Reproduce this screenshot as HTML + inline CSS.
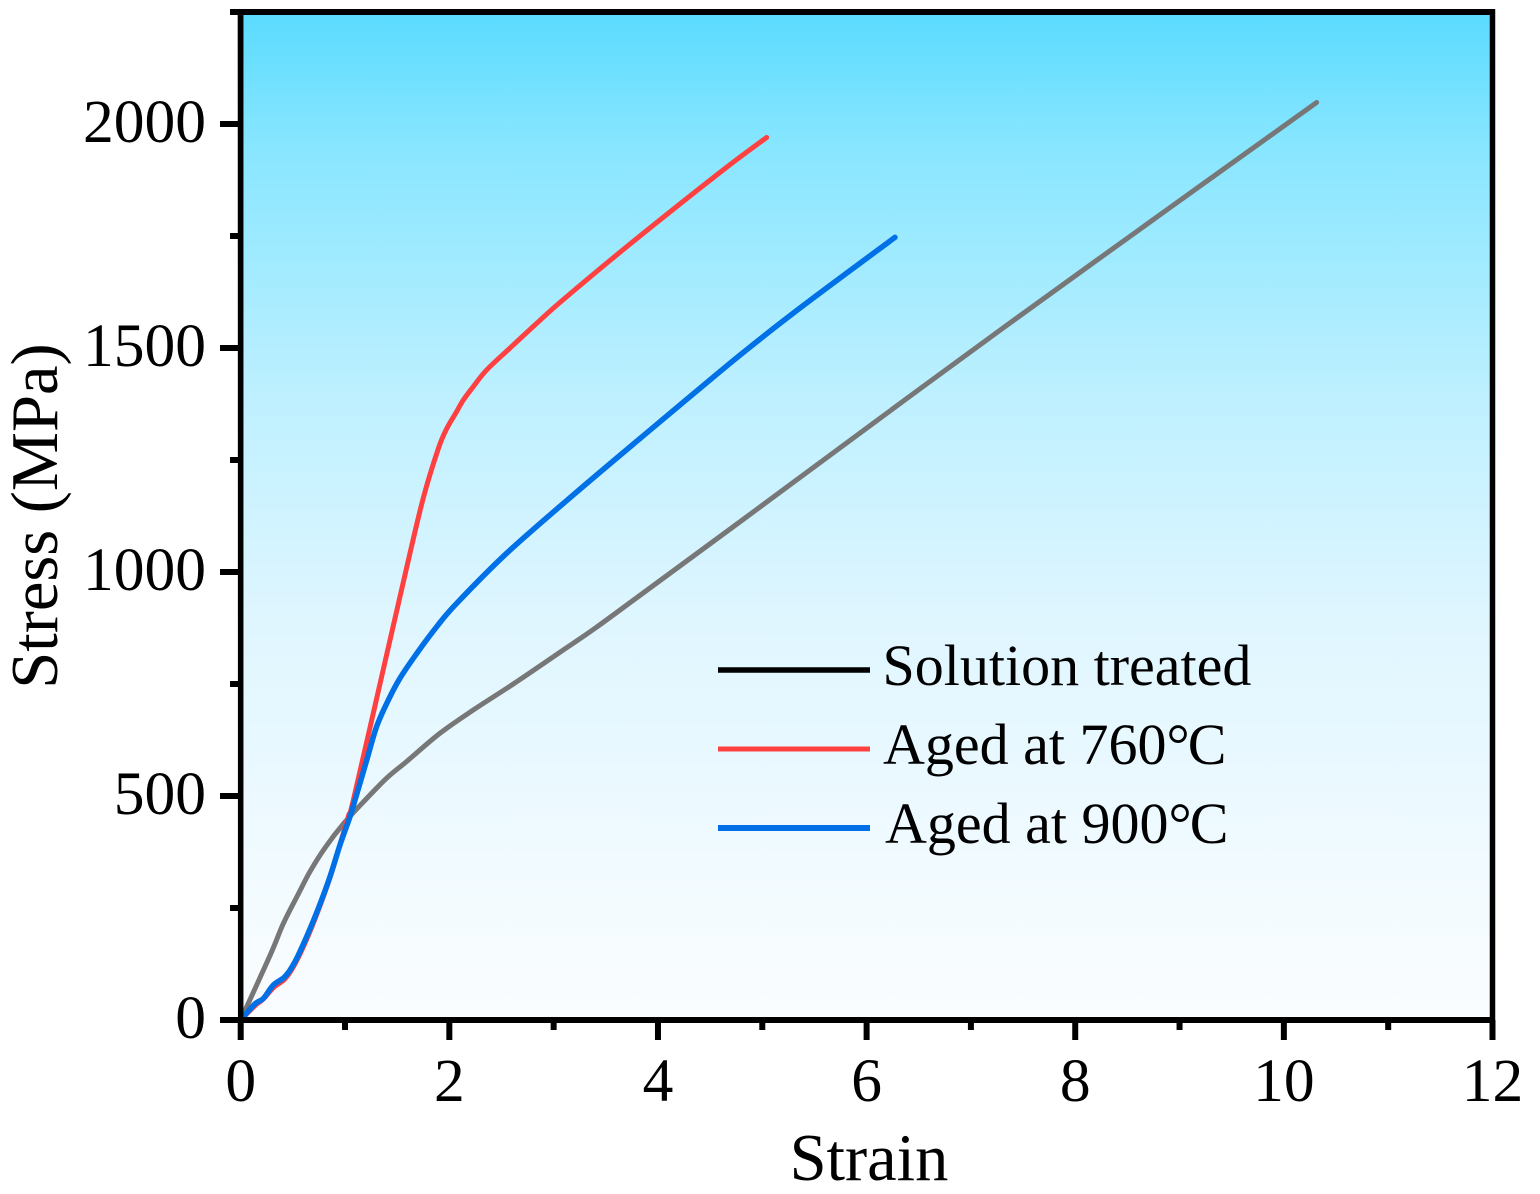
<!DOCTYPE html>
<html lang="en">
<head>
<meta charset="utf-8">
<title>Stress-strain curves</title>
<style>
html,body{margin:0;padding:0;background:#fff;}
svg{display:block;}
text{font-family:"Liberation Serif",serif;fill:#000;}
</style>
</head>
<body>
<svg id="chart" xmlns="http://www.w3.org/2000/svg" width="1540" height="1194" viewBox="0 0 1540 1194">
  <defs>
    <linearGradient id="bgGrad" x1="0" y1="0" x2="0" y2="1">
      <stop offset="0" stop-color="#5adbff"/>
      <stop offset="0.134" stop-color="#88e6ff"/>
      <stop offset="0.382" stop-color="#bef0ff"/>
      <stop offset="0.61" stop-color="#e0f6ff"/>
      <stop offset="1" stop-color="#fbfdff"/>
    </linearGradient>
  </defs>
  <rect x="237" y="12" width="1255" height="1008" fill="url(#bgGrad)"/>
  <g id="series"></g>
  <g id="axes"></g>
  <g>
    <line x1="718" y1="670" x2="870" y2="670" stroke="#000" stroke-width="5.5"/>
    <text x="882.5" y="685" font-size="58">Solution treated</text>
    <line x1="718" y1="749" x2="870" y2="749" stroke="#ff4040" stroke-width="5"/>
    <text x="883" y="764" font-size="58">Aged at 760<tspan letter-spacing="-2">°</tspan>C</text>
    <line x1="718" y1="828" x2="870" y2="828" stroke="#0070e6" stroke-width="6"/>
    <text x="885" y="843" font-size="58">Aged at 900<tspan letter-spacing="-2">°</tspan>C</text>
  </g>
  <text x="869" y="1180" font-size="66.5" text-anchor="middle">Strain</text>
  <text transform="translate(57,516) rotate(-90)" font-size="66.5" text-anchor="middle">Stress (MPa)</text>
</svg>
<script>
const xTicks = [0, 2, 4, 6, 8, 10, 12];
const xMinorTicks = [1, 3, 5, 7, 9, 11];
const yTicks = [0, 500, 1000, 1500, 2000];
const yMinorTicks = [250, 750, 1250, 1750, 2250];

const solutionStrain = [0, 0.283, 0.41, 0.554, 0.666, 0.81, 0.985, 1.177, 1.4, 1.591, 1.91, 2.23, 2.613, 3.03, 3.4, 3.828, 4.786, 6.064, 7.28, 8.876, 10.314];
const solutionStress = [0, 145, 216, 282, 332, 385, 438, 487, 540, 577, 640, 692, 750, 816, 875, 948, 1112, 1332, 1540, 1808, 2048];

const aged760Strain = [0, 0.137, 0.217, 0.313, 0.425, 0.52, 0.632, 0.744, 0.856, 0.952, 1.032, 1.08, 1.335, 1.591, 1.75, 1.894, 1.975, 2.07, 2.134, 2.23, 2.358, 2.582, 2.837, 3.092, 3.732, 4.595, 5.042];
const aged760Stress = [0, 32, 47, 72, 92, 125, 180, 245, 318, 392, 455, 491, 750, 1010, 1165, 1275, 1320, 1358, 1384, 1414, 1451, 1500, 1555, 1608, 1732, 1892, 1970];

const aged900Strain = [0, 0.137, 0.217, 0.313, 0.425, 0.52, 0.632, 0.744, 0.856, 0.952, 1.048, 1.096, 1.208, 1.303, 1.415, 1.527, 1.687, 1.879, 2.07, 2.55, 3.188, 3.828, 4.786, 5.4, 6.272];
const aged900Stress = [0, 36, 48, 78, 97, 130, 186, 249, 320, 391, 454, 491, 580, 655, 714, 763, 818, 878, 930, 1042, 1172, 1298, 1484, 1596, 1747];

const SVG_NS = 'http://www.w3.org/2000/svg';
const xScale = function (v) { return 240.7 + v * (1492.5 - 240.7) / 12; };
const yScale = function (v) { return 1020 - v * (1020 - 124) / 2000; };
const seriesGroup = document.getElementById('series');
const axesGroup = document.getElementById('axes');

function drawSeries(name, xs, ys, color, width) {
  const path = document.createElementNS(SVG_NS, 'path');
  const px = xs.map(xScale);
  const py = ys.map(yScale);
  const n = px.length;
  let d = 'M' + px[0].toFixed(2) + ' ' + py[0].toFixed(2);
  for (let i = 0; i < n - 1; i++) {
    const a = Math.max(i - 1, 0);
    const b = Math.min(i + 2, n - 1);
    const c1x = px[i] + (px[i + 1] - px[a]) / 6;
    const c1y = py[i] + (py[i + 1] - py[a]) / 6;
    const c2x = px[i + 1] - (px[b] - px[i]) / 6;
    const c2y = py[i + 1] - (py[b] - py[i]) / 6;
    d += 'C' + c1x.toFixed(2) + ' ' + c1y.toFixed(2) + ' ' + c2x.toFixed(2) + ' ' + c2y.toFixed(2) + ' ' + px[i + 1].toFixed(2) + ' ' + py[i + 1].toFixed(2);
  }
  path.setAttribute('d', d);
  path.setAttribute('fill', 'none');
  path.setAttribute('stroke', color);
  path.setAttribute('stroke-width', width);
  path.setAttribute('stroke-linecap', 'round');
  path.setAttribute('stroke-linejoin', 'round');
  
  
  seriesGroup.appendChild(path);
}

function drawLine(name, x1, y1, x2, y2, width) {
  const line = document.createElementNS(SVG_NS, 'line');
  line.setAttribute('x1', x1);
  line.setAttribute('y1', y1);
  line.setAttribute('x2', x2);
  line.setAttribute('y2', y2);
  line.setAttribute('stroke', '#000');
  line.setAttribute('stroke-width', width);
  
  
  axesGroup.appendChild(line);
}

function drawLabel(name, x, y, anchor, str) {
  const t = document.createElementNS(SVG_NS, 'text');
  t.setAttribute('x', x);
  t.setAttribute('y', y);
  t.setAttribute('font-size', '61.5');
  t.setAttribute('text-anchor', anchor);
  
  
  t.textContent = str;
  axesGroup.appendChild(t);
}

drawSeries('series-solution-treated', solutionStrain, solutionStress, '#777777', 5);
drawSeries('series-aged-760', aged760Strain, aged760Stress, '#ff4040', 5);
drawSeries('series-aged-900', aged900Strain, aged900Stress, '#0070e6', 5.5);

drawLine('y-axis-line', 240.7, 9, 240.7, 1023, 5.5);
drawLine('x-axis-line', 238, 1020, 1495, 1020, 6);
drawLine('top-border', 238, 12, 1495, 12, 6);
drawLine('right-border', 1492.5, 9, 1492.5, 1023, 5.5);

xTicks.forEach(function (v) {
  drawLine('x-tick-' + v, xScale(v), 1020, xScale(v), 1040, 6);
  drawLabel('x-tick-label-' + v, xScale(v), 1101, 'middle', String(v));
});
xMinorTicks.forEach(function (v) {
  drawLine('x-minor-tick-' + v, xScale(v), 1020, xScale(v), 1030, 6);
});
yTicks.forEach(function (v) {
  drawLine('y-tick-' + v, 220, yScale(v), 240.7, yScale(v), 6);
  drawLabel('y-tick-label-' + v, 206, yScale(v) + 18, 'end', String(v));
});
yMinorTicks.forEach(function (v) {
  drawLine('y-minor-tick-' + v, 230, yScale(v), 240.7, yScale(v), 6);
});
</script>
</body>
</html>
